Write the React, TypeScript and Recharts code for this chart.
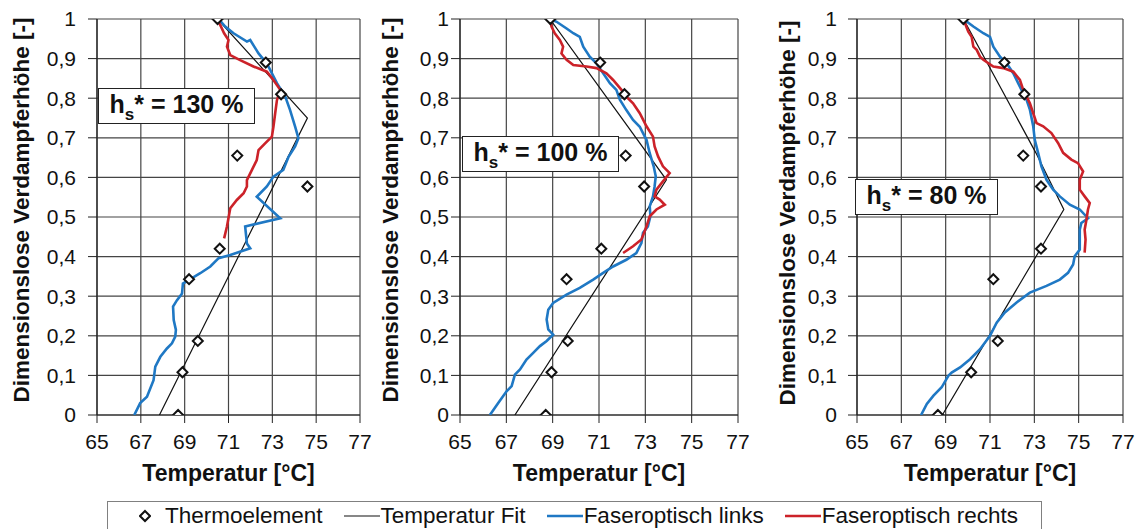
import { ScatterChart, Scatter, XAxis, YAxis, CartesianGrid } from 'recharts';

const FONT = '"Liberation Sans", Arial, Helvetica, sans-serif';
const BLUE = '#1f78c4';
const RED = '#cc2229';
const GRID = '#454545';

const tempTicks = [65, 67, 69, 71, 73, 75, 77];
const heightTicks = [0, 0.1, 0.2, 0.3, 0.4, 0.5, 0.6, 0.7, 0.8, 0.9, 1];

// Thermoelement positions (same heights in every run)
const thermoHeights = [1, 0.89, 0.81, 0.655, 0.577, 0.42, 0.343, 0.187, 0.108, 0];
const thermoT130 = [70.5, 72.7, 73.4, 71.4, 74.6, 70.6, 69.2, 69.6, 68.9, 68.7];
const thermoT100 = [68.9, 71.05, 72.1, 72.15, 72.95, 71.1, 69.6, 69.65, 68.95, 68.7];
const thermoT80 = [69.8, 71.65, 72.55, 72.5, 73.3, 73.3, 71.15, 71.35, 70.15, 68.65];

// Temperatur Fit  [T, h]
const fit130 = [[67.85, 0], [74.6, 0.75], [70.5, 1]];
const fit100 = [[67.37, 0], [73.91, 0.594], [68.88, 1]];
const fit80 = [[68.85, 0], [74.33, 0.519], [73.07, 0.662], [69.8, 1]];

// Faseroptisch links  [T, h]
const links130 = [
  [66.7, 0], [66.97, 0.03], [67.28, 0.046], [67.58, 0.088], [67.66, 0.122], [67.89, 0.147],
  [68.19, 0.168], [68.42, 0.181], [68.57, 0.198], [68.6, 0.215], [68.5, 0.24], [68.47, 0.274],
  [68.65, 0.29], [68.88, 0.307], [68.92, 0.332], [69.26, 0.343], [69.71, 0.358], [70.17, 0.375],
  [70.55, 0.396], [71.08, 0.404], [71.99, 0.421], [71.84, 0.433], [71.76, 0.476], [73.36, 0.497],
  [72.29, 0.551], [72.75, 0.577], [73.05, 0.602], [73.5, 0.619], [73.74, 0.652], [74.04, 0.678],
  [74.19, 0.699], [74.04, 0.728], [73.81, 0.77], [73.59, 0.804], [73.21, 0.838], [72.75, 0.888],
  [72.37, 0.913], [71.99, 0.947], [71.84, 0.943], [71.23, 0.964], [70.85, 0.981], [70.55, 1],
];
const links100 = [
  [66.29, 0], [66.65, 0.03], [67.01, 0.06], [67.23, 0.073], [67.37, 0.102], [67.59, 0.115],
  [67.87, 0.14], [68.16, 0.157], [68.45, 0.174], [68.74, 0.187], [69.02, 0.203], [68.81, 0.216],
  [68.74, 0.241], [68.81, 0.266], [69.02, 0.283], [69.6, 0.304], [70.17, 0.321], [70.75, 0.342],
  [71.18, 0.359], [71.61, 0.375], [72.18, 0.392], [72.61, 0.409], [72.83, 0.434], [72.9, 0.46],
  [73.11, 0.476], [73.22, 0.502], [73.19, 0.527], [73.33, 0.552], [73.4, 0.577], [73.45, 0.603],
  [73.36, 0.628], [73.19, 0.661], [73.05, 0.695], [72.9, 0.712], [72.76, 0.728], [72.47, 0.745],
  [72.18, 0.77], [71.9, 0.796], [71.75, 0.821], [71.47, 0.838], [71.18, 0.863], [70.89, 0.888],
  [70.6, 0.905], [70.32, 0.93], [70.17, 0.955], [69.89, 0.964], [69.6, 0.976], [69.17, 0.993], [68.9, 1],
];
const links80 = [
  [67.89, 0], [68.15, 0.028], [68.45, 0.049], [68.82, 0.07], [69.12, 0.099], [69.27, 0.107],
  [69.65, 0.12], [70.1, 0.141], [70.55, 0.166], [71.0, 0.2], [71.3, 0.233], [71.67, 0.259],
  [72.2, 0.284], [72.8, 0.309], [73.55, 0.326], [74.15, 0.342], [74.52, 0.359], [74.75, 0.38],
  [74.82, 0.401], [75.05, 0.418], [75.05, 0.443], [75.05, 0.468], [75.12, 0.485], [75.42, 0.497],
  [75.05, 0.519], [74.6, 0.531], [74.15, 0.552], [73.85, 0.569], [73.55, 0.594], [73.32, 0.628],
  [73.17, 0.662], [73.02, 0.695], [72.95, 0.729], [72.8, 0.771], [72.65, 0.796], [72.5, 0.812],
  [72.27, 0.838], [72.05, 0.863], [71.75, 0.888], [71.45, 0.905], [71.15, 0.93], [71.0, 0.955],
  [70.7, 0.964], [70.25, 0.981], [69.87, 0.997],
];

// Faseroptisch rechts  [T, h]
const rechts130 = [
  [70.8, 0.446], [70.93, 0.476], [71.08, 0.522], [71.38, 0.543], [71.69, 0.56], [71.84, 0.577],
  [71.84, 0.593], [72.07, 0.619], [72.29, 0.644], [72.37, 0.669], [72.67, 0.686], [72.98, 0.703],
  [73.05, 0.728], [73.13, 0.762], [73.21, 0.795], [73.36, 0.821], [73.05, 0.846], [72.75, 0.867],
  [72.14, 0.88], [71.53, 0.896], [71.08, 0.909], [70.93, 0.93], [71.0, 0.947], [70.8, 0.964],
  [70.62, 0.985], [70.47, 1],
];
const rechts100 = [
  [72.04, 0.409], [72.47, 0.426], [72.83, 0.443], [72.97, 0.464], [73.05, 0.476], [73.19, 0.502],
  [73.48, 0.519], [73.84, 0.531], [73.62, 0.544], [73.4, 0.552], [73.48, 0.569], [73.76, 0.59],
  [74.05, 0.611], [73.76, 0.628], [73.55, 0.653], [73.4, 0.678], [73.33, 0.703], [73.05, 0.729],
  [72.76, 0.762], [72.47, 0.787], [72.18, 0.804], [71.97, 0.821], [71.61, 0.846], [71.32, 0.863],
  [70.89, 0.876], [70.46, 0.88], [69.89, 0.884], [69.6, 0.897], [69.38, 0.913], [69.45, 0.93],
  [69.31, 0.947], [69.09, 0.964], [68.95, 0.981], [68.88, 1],
];
const rechts80 = [
  [75.27, 0.41], [75.31, 0.443], [75.27, 0.468], [75.35, 0.493], [75.42, 0.519], [75.5, 0.535],
  [75.27, 0.552], [75.05, 0.569], [75.05, 0.594], [75.2, 0.615], [74.97, 0.636], [74.67, 0.645],
  [74.3, 0.662], [74.07, 0.687], [73.77, 0.712], [73.4, 0.729], [73.1, 0.737], [72.95, 0.762],
  [72.8, 0.787], [72.65, 0.804], [72.5, 0.821], [72.35, 0.846], [72.05, 0.867], [71.6, 0.876],
  [71.15, 0.88], [70.7, 0.897], [70.55, 0.905], [70.4, 0.922], [70.25, 0.93], [70.17, 0.955],
  [70.02, 0.968], [69.87, 0.989], [69.8, 1],
];

const legendItems = [
  { name: 'Thermoelement', kind: 'diamond', color: '#111' },
  { name: 'Temperatur Fit', kind: 'line', color: '#111' },
  { name: 'Faseroptisch links', kind: 'line', color: BLUE },
  { name: 'Faseroptisch rechts', kind: 'line', color: RED },
];

const toPoints = (pairs: number[][]) => pairs.map(([t, h]) => ({ t, h }));
const thermoPoints = (temps: number[]) => temps.map((t, i) => ({ t, h: thermoHeights[i] }));
const fmtHeight = (v: number) => String(Math.round(v * 10) / 10).replace('.', ',');

const Diamond = (props: any) => {
  const { cx, cy } = props;
  if (cx == null || cy == null) return <g />;
  const r = 5;
  return (
    <path
      d={`M${cx},${cy - r}L${cx + r},${cy}L${cx},${cy + r}L${cx - r},${cy}Z`}
      fill="#fff"
      stroke="#111"
      strokeWidth={2}
    />
  );
};
const NoDot = () => <g />;

interface PanelProps {
  left: number;
  width: number;
  yAxisWidth: number;
  right: number;
  yTickGap: number;
  titleX: number;
  titleDy: number;
  label: string;
  box: { x: number; y: number; w: number };
  thermo: number[];
  fit: number[][];
  links: number[][];
  rechts: number[][];
}

const Panel = (p: PanelProps) => (
  <div style={{ position: 'absolute', left: p.left, top: 0 }}>
    <ScatterChart width={p.width} height={490} margin={{ top: 19, right: p.right, bottom: 0, left: 0 }}>
      <CartesianGrid stroke={GRID} strokeWidth={1.2} />
      <XAxis
        type="number"
        dataKey="t"
        domain={[65, 77]}
        ticks={tempTicks}
        interval={0}
        allowDataOverflow
        height={75}
        tickSize={8}
        tickMargin={11}
        tick={{ fontSize: 21, fill: '#111', fontFamily: FONT }}
        tickLine={{ stroke: '#222' }}
        axisLine={{ stroke: '#222', strokeWidth: 1.2 }}
        label={{
          value: 'Temperatur [°C]',
          position: 'insideBottom',
          offset: 9,
          style: { fontSize: 23, fontWeight: 'bold', fontFamily: FONT, fill: '#111' },
        }}
      />
      <YAxis
        type="number"
        dataKey="h"
        domain={[0, 1]}
        ticks={heightTicks}
        interval={0}
        allowDataOverflow
        width={p.yAxisWidth}
        tickSize={9}
        tickMargin={p.yTickGap}
        tickFormatter={fmtHeight}
        tick={{ fontSize: 21, fill: '#111', fontFamily: FONT }}
        tickLine={{ stroke: '#222' }}
        axisLine={{ stroke: '#222', strokeWidth: 1.2 }}
        label={{
          value: 'Dimensionslose Verdampferhöhe [-]',
          angle: -90,
          position: 'insideLeft',
          offset: p.titleX,
          dy: p.titleDy,
          style: { textAnchor: 'middle', fontSize: 22.5, fontWeight: 'bold', fontFamily: FONT, fill: '#111' },
        }}
      />
      <Scatter
        name="Temperatur Fit"
        data={toPoints(p.fit)}
        fill="#111"
        line={{ stroke: '#111', strokeWidth: 1.2 }}
        lineType="joint"
        shape={NoDot}
        isAnimationActive={false}
      />
      <Scatter
        name="Faseroptisch links"
        data={toPoints(p.links)}
        fill={BLUE}
        line={{ stroke: BLUE, strokeWidth: 2.6 }}
        lineType="joint"
        shape={NoDot}
        isAnimationActive={false}
      />
      <Scatter
        name="Faseroptisch rechts"
        data={toPoints(p.rechts)}
        fill={RED}
        line={{ stroke: RED, strokeWidth: 2.6 }}
        lineType="joint"
        shape={NoDot}
        isAnimationActive={false}
      />
      <Scatter
        name="Thermoelement"
        data={thermoPoints(p.thermo)}
        fill="#fff"
        shape={Diamond}
        isAnimationActive={false}
      />
    </ScatterChart>
    <div
      style={{
        position: 'absolute',
        left: p.box.x,
        top: p.box.y,
        width: p.box.w,
        height: 36,
        boxSizing: 'border-box',
        border: '1.5px solid #222',
        background: '#fff',
        fontFamily: FONT,
        fontWeight: 'bold',
        fontSize: 25,
        lineHeight: '31px',
        textAlign: 'center',
        color: '#111',
        whiteSpace: 'nowrap',
      }}
    >
      <span>
        h<span style={{ fontSize: 17, position: 'relative', top: 7 }}>s</span>
        {p.label}
      </span>
    </div>
  </div>
);

const LegendIcon = ({ kind, color }: { kind: string; color: string }) =>
  kind === 'diamond' ? (
    <svg width={12} height={14} style={{ marginRight: 14 }}>
      <path d="M6,2L11,7L6,12L1,7Z" fill="#fff" stroke={color} strokeWidth={2} />
    </svg>
  ) : (
    <svg width={36} height={14} style={{ marginRight: 1 }}>
      <line x1={0} y1={7} x2={36} y2={7} stroke={color} strokeWidth={color === '#111' ? 1.2 : 2.6} />
    </svg>
  );

export default function App() {
  return (
    <div
      style={{
        position: 'absolute',
        left: 0,
        top: 0,
        width: 1143,
        height: 529,
        overflow: 'hidden',
        background: '#fff',
      }}
    >
      <Panel
        left={0}
        width={380}
        yAxisWidth={97}
        right={20}
        yTickGap={12}
        titleX={21}
        titleDy={-7}
        label="* = 130 %"
        box={{ x: 98, y: 88, w: 157 }}
        thermo={thermoT130}
        fit={fit130}
        links={links130}
        rechts={rechts130}
      />
      <Panel
        left={376}
        width={384}
        yAxisWidth={84}
        right={22}
        yTickGap={2}
        titleX={14}
        titleDy={-7}
        label="* = 100 %"
        box={{ x: 86, y: 136, w: 157 }}
        thermo={thermoT100}
        fit={fit100}
        links={links100}
        rechts={rechts100}
      />
      <Panel
        left={760}
        width={383}
        yAxisWidth={97}
        right={20}
        yTickGap={11}
        titleX={27}
        titleDy={-4}
        label="* = 80 %"
        box={{ x: 95, y: 179, w: 143 }}
        thermo={thermoT80}
        fit={fit80}
        links={links80}
        rechts={rechts80}
      />
      <div
        style={{
          position: 'absolute',
          left: 107,
          top: 501,
          width: 935,
          height: 40,
          boxSizing: 'border-box',
          border: '1px solid #808080',
          background: '#fff',
          display: 'flex',
          alignItems: 'flex-start',
          paddingLeft: 31,
          paddingTop: 2,
          fontFamily: FONT,
          fontSize: 22.5,
          color: '#111',
          whiteSpace: 'nowrap',
        }}
      >
        {legendItems.map((item) => (
          <div key={item.name} style={{ display: 'flex', alignItems: 'center', marginRight: 21, lineHeight: '24px' }}>
            <LegendIcon kind={item.kind} color={item.color} />
            <span>{item.name}</span>
          </div>
        ))}
      </div>
    </div>
  );
}
